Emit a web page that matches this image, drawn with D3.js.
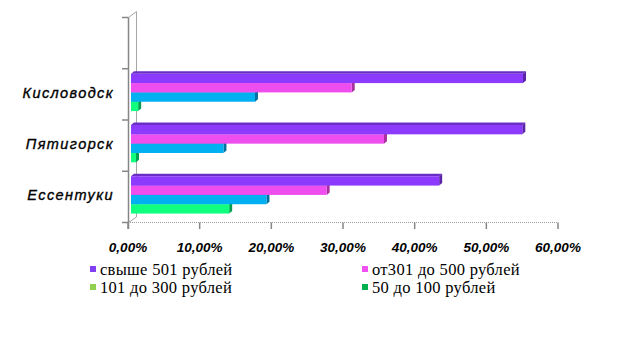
<!DOCTYPE html>
<html><head><meta charset="utf-8">
<script src="https://cdn.jsdelivr.net/npm/d3@7"></script>
<style>body{margin:0;background:#fff}svg{display:block}</style>
</head><body>
<svg id="c" width="626" height="341"></svg>
<script>
const categories = ["Кисловодск", "Пятигорск", "Ессентуки"];
const seriesNames = ["свыше 501 рублей", "от301 до 500 рублей", "101 до 300 рублей", "50 до 100 рублей"];
const over501 = [54.7, 54.6, 43.0];
const from301to500 = [30.8, 35.3, 27.3];
const from101to300 = [17.3, 12.9, 18.9];
const from50to100 = [1.0, 0.7, 13.7];
const tickValues = [0, 10, 20, 30, 40, 50, 60];
const tickLabels = ["0,00%", "10,00%", "20,00%", "30,00%", "40,00%", "50,00%", "60,00%"];

const seriesValues = [over501, from301to500, from101to300, from50to100];
const frontColors = ["#8B3AFE", "#EE4EEE", "#00B0F0", "#10FF7F"];
const topColors = ["#6A2DC6", "#B53AB5", "#0086B8", "#0CC060"];
const sideColors = ["#5A24A8", "#A8309F", "#0070A0", "#00A050"];
const legendColors = ["#8040F0", "#F050F0", "#92D050", "#00B050"];

const svg = d3.select("#c");
const x = d3.scaleLinear().domain([0, 60]).range([128, 558]);
const y = d3.scaleBand().domain(["", ...categories]).range([17.5, 222.5]).padding(0);
const bw = y.bandwidth();
const dx = 3, dy = 2.5;

// walls
const g = svg.append("g");
g.append("path").attr("d", `M128.5,17.5 L136.5,11.5 L136.5,217 L128.5,222.5`)
  .attr("fill", "none").attr("stroke", "#a6a6a6").attr("stroke-width", 1);
g.append("line").attr("x1", 128.5).attr("x2", 128.5).attr("y1", 17.5).attr("y2", 229)
  .attr("stroke", "#868686").attr("stroke-width", 1.5);
g.append("line").attr("x1", 128).attr("x2", 558).attr("y1", 222.5).attr("y2", 222.5)
  .attr("stroke", "#9a9a9a").attr("stroke-width", 1.2).attr("stroke-dasharray", "1,1");
// left ticks
y.domain().forEach(d => {
  const yy = y(d);
  g.append("line").attr("x1", 122).attr("x2", 128.5).attr("y1", yy).attr("y2", yy)
    .attr("stroke", "#868686").attr("stroke-width", 1.5);
});
g.append("line").attr("x1", 122).attr("x2", 128.5).attr("y1", 222.5).attr("y2", 222.5)
  .attr("stroke", "#868686").attr("stroke-width", 1.5);
// bottom ticks
tickValues.forEach(v => {
  g.append("line").attr("x1", x(v)).attr("x2", x(v)).attr("y1", 222.5).attr("y2", 229)
    .attr("stroke", "#868686").attr("stroke-width", 1.5);
});

// bars
const barH = bw * 0.182;
categories.forEach((cat, ci) => {
  const y0 = y(cat) + 5;
  for (let si = seriesValues.length - 1; si >= 0; si--) {
    const v = seriesValues[si][ci];
    const x0 = x(0) + 3, x1 = x(v) + 3;
    const top = y0 + si * barH, bot = top + barH;
    const bg = svg.append("g");
    bg.append("path").attr("d", `M${x0},${top} L${x0 + dx},${top - dy} L${x1 + dx},${top - dy} L${x1},${top} Z`)
      .attr("fill", topColors[si]);
    bg.append("path").attr("d", `M${x1},${top} L${x1 + dx},${top - dy} L${x1 + dx},${bot - dy} L${x1},${bot} Z`)
      .attr("fill", sideColors[si]);
    bg.append("rect").attr("x", x0).attr("y", top).attr("width", Math.max(0, x1 - x0)).attr("height", barH)
      .attr("fill", frontColors[si]);
  }
});

// category labels
categories.forEach(cat => {
  svg.append("text").attr("x", 114).attr("y", y(cat) + bw / 2 + 3.5)
    .attr("text-anchor", "end")
    .attr("font-family", "Liberation Sans, Arial, sans-serif")
    .attr("font-style", "italic").attr("font-size", 14.5)
    .attr("letter-spacing", 1.4)
    .attr("stroke", "#000").attr("stroke-width", 0.35)
    .text(cat);
});

// tick labels
tickValues.forEach((v, i) => {
  svg.append("text").attr("x", x(v)).attr("y", 252)
    .attr("text-anchor", "middle")
    .attr("font-family", "Liberation Sans, Arial, sans-serif")
    .attr("font-style", "italic").attr("font-weight", "bold").attr("font-size", 13.5)
    .text(tickLabels[i]);
});

// legend
const legPos = [[90, 270], [362, 270], [90, 288], [362, 288]];
seriesNames.forEach((n, i) => {
  const [lx, ly] = legPos[i];
  svg.append("rect").attr("x", lx).attr("y", ly - 4).attr("width", 6).attr("height", 6).attr("fill", legendColors[i]);
  svg.append("text").attr("x", lx + 10).attr("y", ly + 5)
    .attr("font-family", "Liberation Serif, Times New Roman, serif")
    .attr("font-size", 16.5).attr("letter-spacing", 0.3).text(n);
});
</script>
</body></html>
